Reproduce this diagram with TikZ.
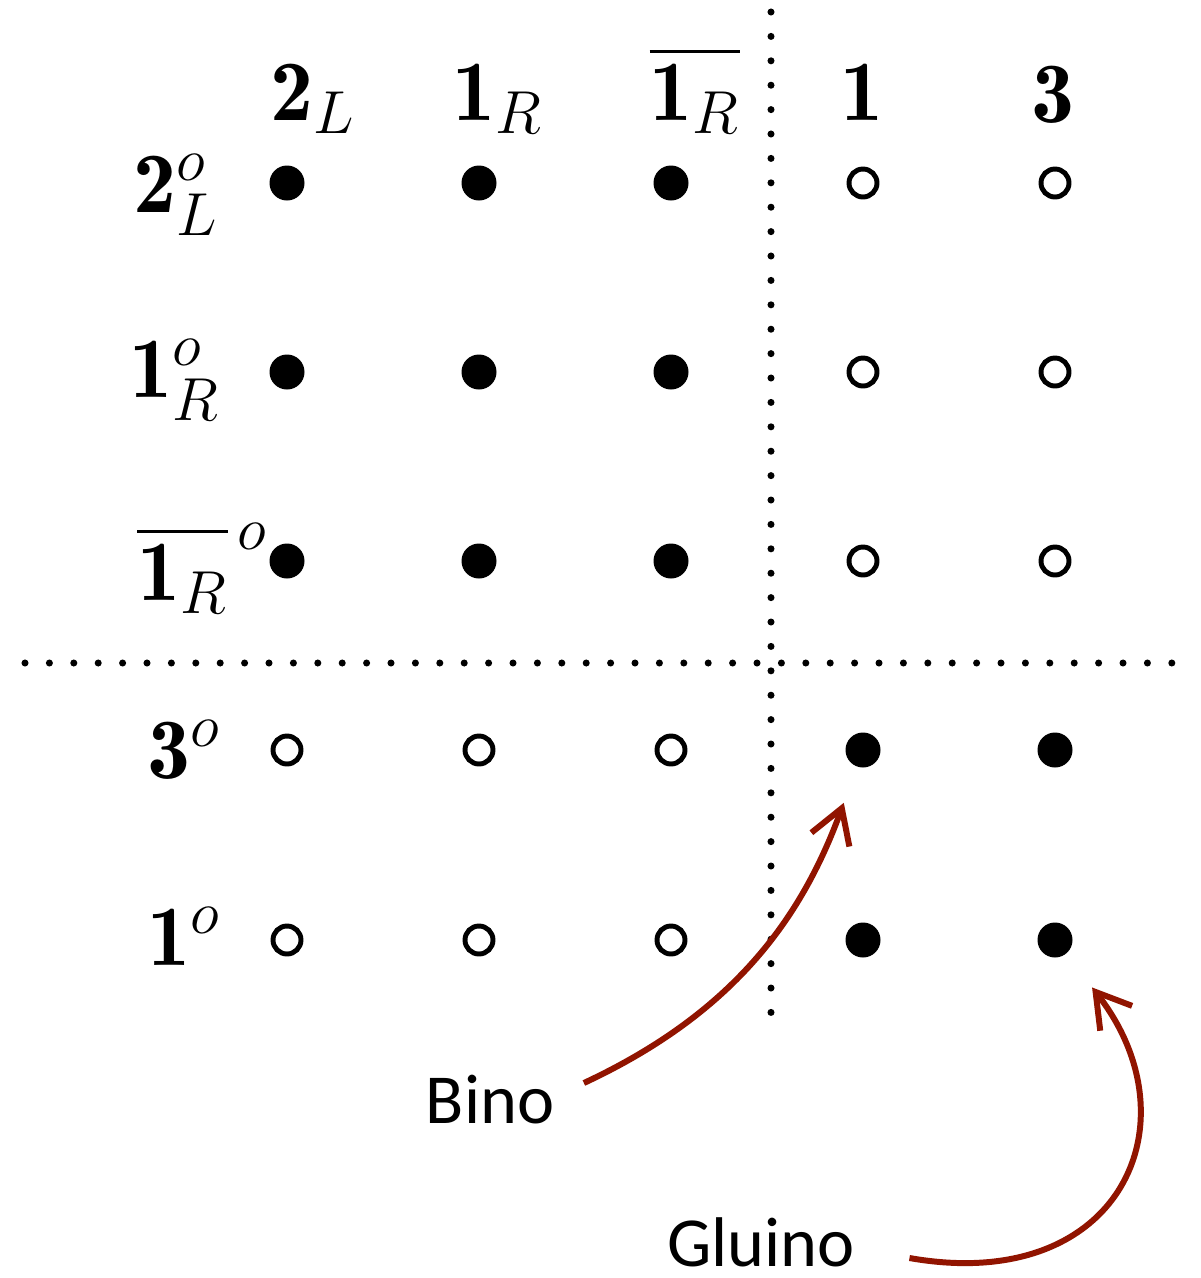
\documentclass[tikz,border=0pt]{standalone}
\usepackage{amsmath,amssymb}
\usepackage{fontspec}
\newfontfamily\labelfont{Carlito}
\usepackage{xcolor}
\usepackage{tikz}
\usetikzlibrary{arrows.meta, positioning}
\definecolor{arrowred}{RGB}{145,20,0}

\begin{document}
\begin{tikzpicture}[
    full/.style={circle, fill=black, minimum size=0.35cm, inner sep=0pt},
    hollow/.style={circle, draw=black, line width=1.4pt, minimum size=0.28cm, inner sep=0pt},
    irrep/.style={inner sep=0pt, font=\fontsize{24.5}{29}\selectfont},
    particle/.style={inner sep=0pt, font=\labelfont\fontsize{20}{24}\selectfont},
    sepline/.style={line width=2pt, line cap=round, dash pattern=on 0pt off 0.244cm},
    arr/.style={-{Straight Barb[length=9.5pt,width=11.5pt]}, line width=1.7pt, draw=arrowred}
]
    \useasboundingbox (0,0) rectangle (12.01,-12.78);

    % column and row labels
    \node[irrep, anchor=base] (h1) at (3.13,-1.20) {$\mathbf{2}_L$};
    \node[irrep, anchor=base] (h2) at (4.98,-1.20) {$\mathbf{1}_R$};
    \node[irrep, anchor=base] (h3) at (6.95,-1.20) {$\overline{\mathbf{1}_R}$};
    \node[irrep, anchor=base] (h4) at (8.62,-1.20) {$\mathbf{1}$};
    \node[irrep, anchor=base] (h5) at (10.53,-1.22) {$\mathbf{3}$};

    \node[irrep, anchor=base east] (v1) at (2.19,-2.12) {$\mathbf{2}^o_L$};
    \node[irrep, anchor=base east] (v2) at (2.21,-3.97) {$\mathbf{1}^o_R$};
    \node[irrep, anchor=base east] (v3) at (2.69,-6.00) {$\overline{\mathbf{1}_R}^{\,o}$};
    \node[irrep, anchor=base east] (v4) at (2.22,-7.78) {$\mathbf{3}^o$};
    \node[irrep, anchor=base east] (v5) at (2.22,-9.65) {$\mathbf{1}^o$};

    % grid of states
    \node[full]   (d11) at (2.87,-1.83) {}; \node[full]   (d12) at (4.79,-1.83) {}; \node[full]   (d13) at (6.71,-1.83) {};
    \node[hollow] (d14) at (8.63,-1.83) {}; \node[hollow] (d15) at (10.55,-1.83) {};
    \node[full]   (d21) at (2.87,-3.72) {}; \node[full]   (d22) at (4.79,-3.72) {}; \node[full]   (d23) at (6.71,-3.72) {};
    \node[hollow] (d24) at (8.63,-3.72) {}; \node[hollow] (d25) at (10.55,-3.72) {};
    \node[full]   (d31) at (2.87,-5.61) {}; \node[full]   (d32) at (4.79,-5.61) {}; \node[full]   (d33) at (6.71,-5.61) {};
    \node[hollow] (d34) at (8.63,-5.61) {}; \node[hollow] (d35) at (10.55,-5.61) {};
    \node[hollow] (d41) at (2.87,-7.50) {}; \node[hollow] (d42) at (4.79,-7.50) {}; \node[hollow] (d43) at (6.71,-7.50) {};
    \node[full]   (d44) at (8.63,-7.50) {}; \node[full]   (d45) at (10.55,-7.50) {};
    \node[hollow] (d51) at (2.87,-9.40) {}; \node[hollow] (d52) at (4.79,-9.40) {}; \node[hollow] (d53) at (6.71,-9.40) {};
    \node[full]   (d54) at (8.63,-9.40) {}; \node[full]   (d55) at (10.55,-9.40) {};

    % dotted separators
    \draw[sepline] (7.71,-0.12) -- (7.71,-10.25);
    \draw[sepline] (0.25,-6.63) -- (11.90,-6.63);

    % particles
    \node[particle] (bino)   at (4.90,-11.00) {Bino};
    \node[particle] (gluino) at (7.61,-12.42) {Gluino};

    \draw[arr, shorten >=0.38cm] ([shift={(0.29,0.17)}]bino.east) to[out=25,in=-110] (d44);
    \draw[arr, shorten >=0.42cm] ([shift={(0.54,-0.16)}]gluino.east) to[out=-10,in=-52,looseness=1.6] (d55);
\end{tikzpicture}
\end{document}
